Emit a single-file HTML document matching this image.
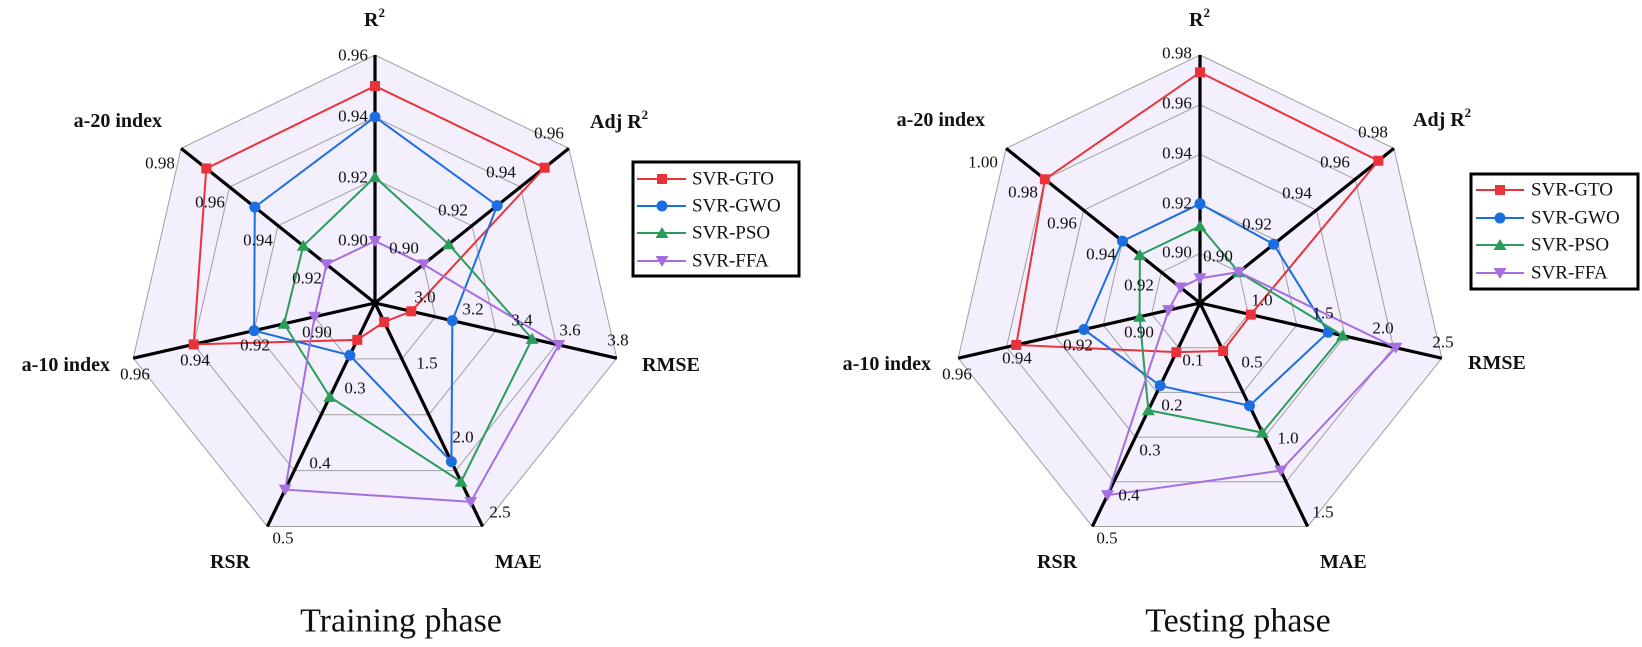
<!DOCTYPE html>
<html><head><meta charset="utf-8"><style>
html,body{margin:0;padding:0;background:#fff;}
svg{display:block;font-family:"Liberation Serif",serif;}
.t{font-size:17px;fill:#111;text-anchor:middle;dominant-baseline:central;}
.h{font-size:20px;font-weight:bold;fill:#111;dominant-baseline:central;}
.lg{font-size:19px;fill:#111;dominant-baseline:central;}
.cap{font-size:34px;fill:#111;text-anchor:middle;dominant-baseline:central;}
</style></head><body>
<svg id="s" width="1642" height="647" viewBox="0 0 1642 647" xmlns="http://www.w3.org/2000/svg">
<g id="plots"></g>
<g>
<text x="353" y="55" class="t">0.96</text><text x="353" y="116" class="t">0.94</text><text x="353" y="177" class="t">0.92</text><text x="353" y="240" class="t">0.90</text>
<text x="549" y="133" class="t">0.96</text><text x="501" y="172" class="t">0.94</text><text x="453" y="210" class="t">0.92</text><text x="404" y="248" class="t">0.90</text>
<text x="425" y="297" class="t">3.0</text><text x="473" y="309" class="t">3.2</text><text x="522" y="320" class="t">3.4</text><text x="570" y="330" class="t">3.6</text><text x="618" y="340" class="t">3.8</text>
<text x="427" y="363" class="t">1.5</text><text x="463" y="437" class="t">2.0</text><text x="500" y="512" class="t">2.5</text>
<text x="355" y="388" class="t">0.3</text><text x="320" y="463" class="t">0.4</text><text x="283" y="538" class="t">0.5</text>
<text x="317" y="332" class="t">0.90</text><text x="255" y="345" class="t">0.92</text><text x="195" y="360" class="t">0.94</text><text x="135" y="374" class="t">0.96</text>
<text x="307" y="278" class="t">0.92</text><text x="258" y="240" class="t">0.94</text><text x="210" y="202" class="t">0.96</text><text x="160" y="163" class="t">0.98</text>
</g>
<g>
<text x="1177" y="53" class="t">0.98</text><text x="1177" y="103" class="t">0.96</text><text x="1177" y="153" class="t">0.94</text><text x="1177" y="203" class="t">0.92</text><text x="1177" y="252" class="t">0.90</text>
<text x="1373" y="132" class="t">0.98</text><text x="1335" y="162" class="t">0.96</text><text x="1297" y="193" class="t">0.94</text><text x="1257" y="224" class="t">0.92</text><text x="1218" y="256" class="t">0.90</text>
<text x="1262" y="300" class="t">1.0</text><text x="1323" y="313" class="t">1.5</text><text x="1383" y="328" class="t">2.0</text><text x="1443" y="342" class="t">2.5</text>
<text x="1252" y="362" class="t">0.5</text><text x="1288" y="438" class="t">1.0</text><text x="1323" y="512" class="t">1.5</text>
<text x="1193" y="360" class="t">0.1</text><text x="1172" y="405" class="t">0.2</text><text x="1150" y="450" class="t">0.3</text><text x="1129" y="495" class="t">0.4</text><text x="1107" y="538" class="t">0.5</text>
<text x="1139" y="332" class="t">0.90</text><text x="1078" y="345" class="t">0.92</text><text x="1017" y="358" class="t">0.94</text><text x="957" y="374" class="t">0.96</text>
<text x="1139" y="285" class="t">0.92</text><text x="1101" y="254" class="t">0.94</text><text x="1062" y="223" class="t">0.96</text><text x="1023" y="192" class="t">0.98</text><text x="983" y="162" class="t">1.00</text>
</g>
<text x="364" y="20" class="h">R<tspan dy="-8" font-size="13">2</tspan></text>
<text x="590" y="122" class="h">Adj R<tspan dy="-8" font-size="13">2</tspan></text>
<text x="642" y="365" class="h">RMSE</text>
<text x="495" y="562" class="h">MAE</text>
<text x="210" y="562" class="h">RSR</text>
<text x="162" y="121" class="h" text-anchor="end">a-20 index</text>
<text x="110" y="365" class="h" text-anchor="end">a-10 index</text>
<text x="1189" y="20" class="h">R<tspan dy="-8" font-size="13">2</tspan></text>
<text x="1413" y="120" class="h">Adj R<tspan dy="-8" font-size="13">2</tspan></text>
<text x="1468" y="363" class="h">RMSE</text>
<text x="1320" y="562" class="h">MAE</text>
<text x="1037" y="562" class="h">RSR</text>
<text x="985" y="120" class="h" text-anchor="end">a-20 index</text>
<text x="931" y="364" class="h" text-anchor="end">a-10 index</text>
<text x="401" y="621" class="cap">Training phase</text>
<text x="1238" y="621" class="cap">Testing phase</text>
<g id="leg"></g>
<text x="692" y="179" class="lg">SVR-GTO</text><text x="692" y="206" class="lg">SVR-GWO</text><text x="692" y="233" class="lg">SVR-PSO</text><text x="692" y="261" class="lg">SVR-FFA</text>
<text x="1531" y="190" class="lg">SVR-GTO</text><text x="1531" y="218" class="lg">SVR-GWO</text><text x="1531" y="245" class="lg">SVR-PSO</text><text x="1531" y="273" class="lg">SVR-FFA</text>
</svg>
<script>
(function(){
var NS="http://www.w3.org/2000/svg";
var g=document.getElementById("plots"), lg=document.getElementById("leg");
function el(p,n,a){var e=document.createElementNS(NS,n);for(var k in a)e.setAttribute(k,a[k]);p.appendChild(e);return e;}
var C=["#e8333a","#1a6ee0","#2a9d5a","#a56fe0"];
function pt(cx,cy,r,i){var t=i*2*Math.PI/7;return [cx+r*Math.sin(t),cy-r*Math.cos(t)];}
function marker(p,k,x,y){
 var c=C[k];
 if(k==0) el(p,"rect",{x:x-5,y:y-5,width:10,height:10,fill:c});
 else if(k==1) el(p,"circle",{cx:x,cy:y,r:5.5,fill:c});
 else if(k==2) el(p,"polygon",{points:(x)+","+(y-6)+" "+(x-6.5)+","+(y+5)+" "+(x+6.5)+","+(y+5),fill:c});
 else el(p,"polygon",{points:(x)+","+(y+6)+" "+(x-6.5)+","+(y-5)+" "+(x+6.5)+","+(y-5),fill:c});
}
function radar(cx,cy,R,n,data){
 var o=[];for(var i=0;i<7;i++)o.push(pt(cx,cy,R,i).join(","));
 el(g,"polygon",{points:o.join(" "),fill:"#f4effd",stroke:"none"});
 for(var k=1;k<=n;k++){var q=[];for(var i=0;i<7;i++)q.push(pt(cx,cy,R*k/n,i).join(","));
  el(g,"polygon",{points:q.join(" "),fill:"none",stroke:"#a0a0a0","stroke-width":1});}
 for(var i=0;i<7;i++){var p=pt(cx,cy,R,i);el(g,"line",{x1:cx,y1:cy,x2:p[0],y2:p[1],stroke:"#000","stroke-width":3.2});}
 for(var s=0;s<4;s++){var q=[],ps=[];for(var i=0;i<7;i++){var p=pt(cx,cy,R*data[s][i],i);ps.push(p);q.push(p.join(","));}
  el(g,"polygon",{points:q.join(" "),fill:"none",stroke:C[s],"stroke-width":2});
  for(var i=0;i<7;i++)marker(g,s,ps[i][0],ps[i][1]);}
}
radar(375,303,248,4,[[0.875,0.875,0.15,0.085,0.165,0.75,0.87],[0.75,0.63,0.32,0.71,0.234,0.5,0.62],[0.508,0.38,0.65,0.80,0.42,0.376,0.37],[0.25,0.25,0.76,0.89,0.835,0.25,0.25]]);
radar(1200,303,248,5,[[0.93,0.92,0.21,0.215,0.22,0.76,0.80],[0.40,0.38,0.53,0.46,0.37,0.48,0.40],[0.31,0.20,0.59,0.58,0.48,0.25,0.31],[0.10,0.20,0.81,0.75,0.86,0.13,0.10]]);
function legend(x0,y0,x1,y1,lx0,lx1,mx,ys){
 el(lg,"rect",{x:x0,y:y0,width:x1-x0,height:y1-y0,fill:"#fff",stroke:"#000","stroke-width":3});
 for(var s=0;s<4;s++){el(lg,"line",{x1:lx0,y1:ys[s],x2:lx1,y2:ys[s],stroke:C[s],"stroke-width":2});marker(lg,s,mx,ys[s]);}
}
legend(633,162,799,276,637,686,662,[179,206,233,261]);
legend(1471,174,1638,289,1476,1524,1500,[190,218,245,273]);
var s=document.getElementById("s");var txt=[].slice.call(s.querySelectorAll("text"));txt.forEach(function(t){s.appendChild(t);});
})();
</script>
</body></html>
